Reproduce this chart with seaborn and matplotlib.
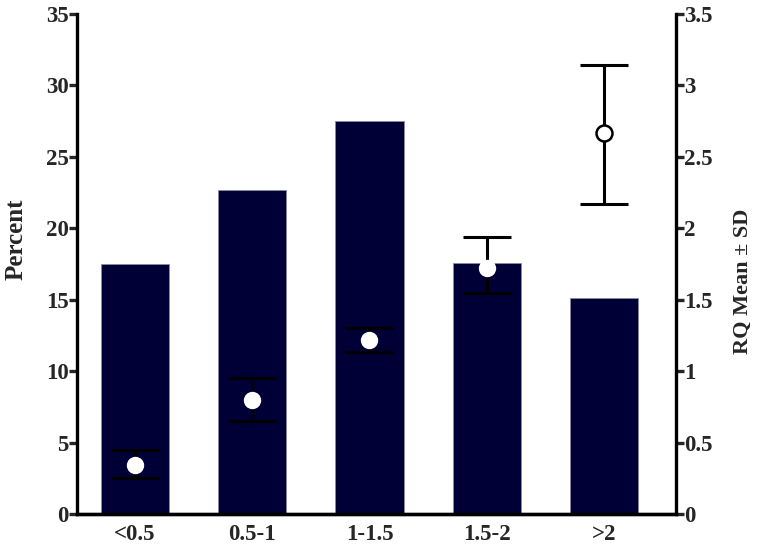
import numpy as np
import pandas as pd
import seaborn as sns
import matplotlib.pyplot as plt

# dados
grupos = ['<0.5', '0.5-1', '1-1.5', '1.5-2', '>2']
percent = [17.5, 22.7, 27.5, 17.6, 15.1]
rq_mean = [0.345, 0.80, 1.22, 1.72, 2.67]
rq_sd_up = [0.105, 0.15, 0.08, 0.22, 0.47]
rq_sd_down = [0.095, 0.15, 0.085, 0.17, 0.50]

sns.set_style('white')
plt.rcParams['font.family'] = ['Liberation Serif', 'DejaVu Serif']
plt.rcParams['font.weight'] = 'bold'

df = pd.DataFrame({'Grupo': grupos, 'Percent': percent})

fig = plt.figure(figsize=(7.58, 5.46), dpi=100)
ax = fig.add_axes([0.1016, 0.0586, 0.7902, 0.9158])

sns.barplot(data=df, x='Grupo', y='Percent', color='#000036', saturation=1,
            width=0.58, edgecolor='#8a8aa8', linewidth=0.6, ax=ax)
ax.set_xlim(-0.49, 4.61)
ax.set_ylim(0, 35)
ax.set_yticks(np.arange(0, 36, 5))
ax.set_xlabel('')
ax.set_ylabel('Percent', fontsize=18, fontweight='bold')
ax.yaxis.set_label_coords(-0.083, 0.55)

ax2 = ax.twinx()
pos = np.arange(len(grupos))
ax2.errorbar(pos[:4], rq_mean[:4], yerr=[rq_sd_down[:4], rq_sd_up[:4]], fmt='none',
             ecolor='black', elinewidth=2.2, capsize=17.5, capthick=2.2, zorder=2)
ax2.plot(pos[:4], rq_mean[:4], 'o', color='white', markersize=11.5, zorder=3)
ax2.errorbar(pos[4:], rq_mean[4:], yerr=[rq_sd_down[4:], rq_sd_up[4:]], fmt='none',
             ecolor='black', elinewidth=2.2, capsize=17.5, capthick=2.2, zorder=2)
ax2.plot(pos[4:], rq_mean[4:], 'o', markerfacecolor='white', markeredgecolor='black',
         markeredgewidth=1.8, markersize=11.5, zorder=3)
ax2.set_ylim(0, 3.5)
ax2.set_yticks(np.arange(0, 3.6, 0.5))
ax2.set_yticklabels(['0', '0.5', '1', '1.5', '2', '2.5', '3', '3.5'])
ax2.set_ylabel('RQ Mean ± SD', fontsize=16, fontweight='bold')
ax2.yaxis.set_label_coords(1.095, 0.466)

for a in (ax, ax2):
    a.spines['top'].set_visible(False)
    for s in ('left', 'right', 'bottom'):
        a.spines[s].set_linewidth(2.4)
        a.spines[s].set_color('black')
    a.tick_params(axis='y', length=6, width=2.4, labelsize=16.5, pad=0)
    a.tick_params(axis='x', length=0, labelsize=16.5, pad=7)
ax.spines['right'].set_visible(False)
ax2.spines['left'].set_visible(False)
ax.tick_params(axis='y', left=True)
ax2.tick_params(axis='y', right=True)

for lab in ax.get_xticklabels() + ax.get_yticklabels() + ax2.get_yticklabels():
    lab.set_fontweight('bold')

fig.savefig('out.png', dpi=100)
